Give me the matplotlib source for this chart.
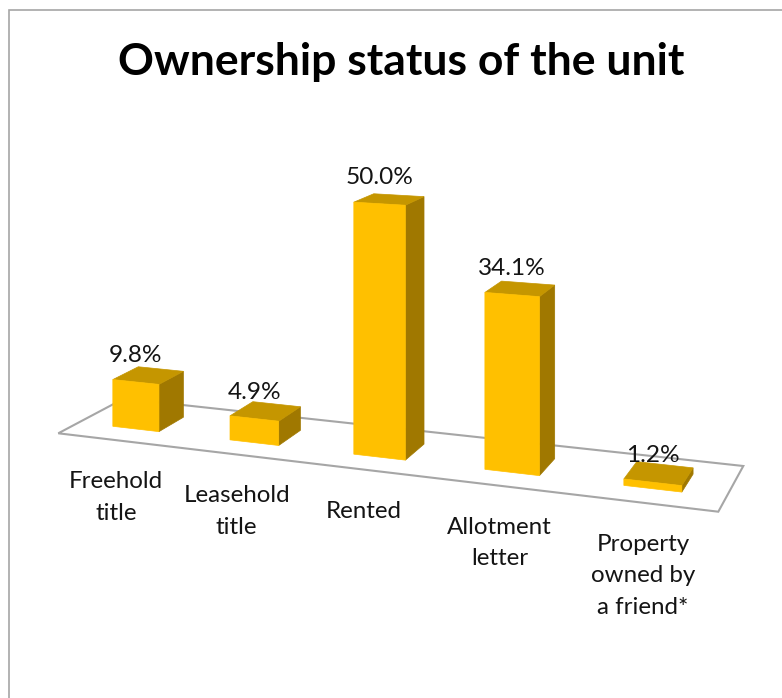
import numpy as np
import matplotlib.pyplot as plt
from matplotlib.patches import Polygon

categories = ["Freehold\ntitle", "Leasehold\ntitle", "Rented",
              "Allotment\nletter", "Property\nowned by\na friend*"]
shares = [9.8, 4.9, 50.0, 34.1, 1.2]
value_labels = [f"{v:.1f}%" for v in shares]

plt.rcParams["font.family"] = ["Lato", "DejaVu Sans"]

W, H = 782, 698
fig = plt.figure(figsize=(W / 100, H / 100), dpi=100)
ax = fig.add_axes([0, 0, 1, 1])
ax.set_xlim(0, W)
ax.set_ylim(H, 0)
ax.axis("off")

FRONT = "#FFC000"
TOP = "#C59600"
SIDE = "#A07800"
GRID = "#A6A6A6"
INK = "#141414"

# camera: the floor's corners on the canvas (front-left, front-right, back-right, back-left)
floor_px = np.array([[58.3, 433.3], [718.3, 511.7], [743.3, 466.0], [123.8, 398.6]])
unit_sq = np.array([[0, 0], [1, 0], [1, 1], [0, 1]], float)


def homography(src, dst):
    A, b = [], []
    for (u, w), (x, y) in zip(src, dst):
        A.append([u, w, 1, 0, 0, 0, -u * x, -w * x])
        b.append(x)
        A.append([0, 0, 0, u, w, 1, -u * y, -w * y])
        b.append(y)
    h = np.linalg.solve(np.array(A), np.array(b))
    return np.append(h, 1.0).reshape(3, 3)


Hm = homography(unit_sq, floor_px)
# pixels per percentage point near the middle of the floor
z_scale = 5.04 * (Hm @ [0.46, 0.3, 1.0])[2]


def project(u, w, z=0.0):
    px, py, pw = Hm @ [u, w, 1.0]
    return px / pw, py / pw - z * z_scale / pw


n = len(shares)
w0, w1 = 0.3, 0.7

# floor
corners = [project(u, w) for u, w in unit_sq]
ax.add_patch(Polygon(corners, closed=True, facecolor="white",
                     edgecolor=GRID, lw=1.5, zorder=1))

for i, (v, lab, cat) in enumerate(zip(shares, value_labels, categories)):
    u0, u1, uc = (i + 0.3) / n, (i + 0.7) / n, (i + 0.5) / n
    front = [project(u0, w0), project(u1, w0), project(u1, w0, v), project(u0, w0, v)]
    side = [project(u1, w0), project(u1, w1), project(u1, w1, v), project(u1, w0, v)]
    top = [project(u0, w0, v), project(u1, w0, v), project(u1, w1, v), project(u0, w1, v)]
    for poly, col in ((side, SIDE), (top, TOP), (front, FRONT)):
        ax.add_patch(Polygon(poly, closed=True, facecolor=col,
                             edgecolor=col, lw=0.5, zorder=2 + i))

    tx, ty = project(uc, w0, v)
    ax.text(tx, ty - 20, lab, ha="center", va="baseline",
            fontsize=17.6, color=INK, zorder=20)

    lx, ly = project(uc, 0.0)
    ax.text(lx, ly + 31, cat, ha="center", va="top", multialignment="center",
            fontsize=17.4, color=INK, linespacing=1.63, zorder=20)

ax.text(401, 75, "Ownership status of the unit", ha="center", va="baseline",
        fontsize=32, fontweight="bold", color="black")

# chart border
ax.plot([8.5, 8.5, W], [H, 9.5, 9.5], color=GRID, lw=1.2, solid_joinstyle="miter")

fig.savefig("out.png", dpi=100)
